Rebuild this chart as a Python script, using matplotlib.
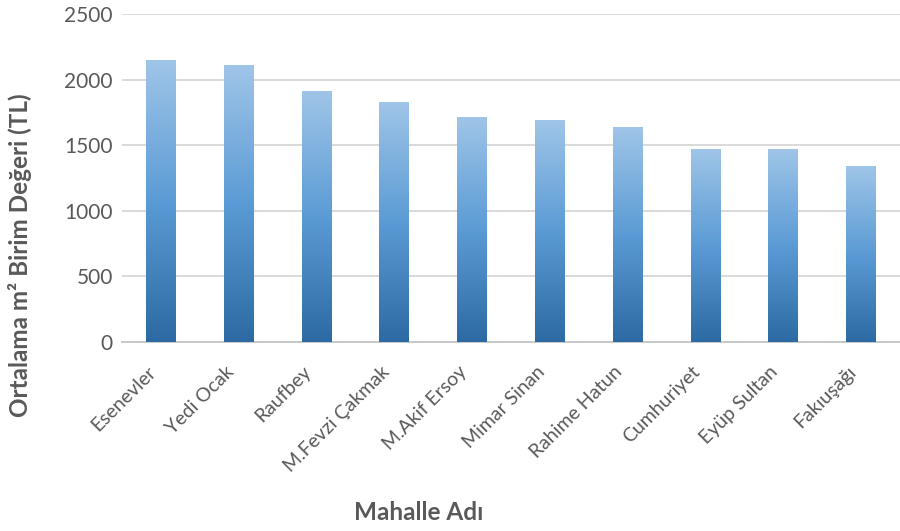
import numpy as np
import matplotlib
matplotlib.use("Agg")
import matplotlib.pyplot as plt
from matplotlib.colors import LinearSegmentedColormap
from matplotlib.transforms import ScaledTranslation

plt.rcParams['font.family'] = ['Lato', 'DejaVu Sans']

mahalleler = ["Esenevler", "Yedi Ocak", "Raufbey", "M.Fevzi Çakmak", "M.Akif Ersoy",
              "Mimar Sinan", "Rahime Hatun", "Cumhuriyet", "Eyüp Sultan", "Fakıuşağı"]
birim_deger = [2145, 2105, 1912, 1822, 1714, 1687, 1636, 1471, 1471, 1334]
y_ticks = [0, 500, 1000, 1500, 2000, 2500]

fig = plt.figure(figsize=(9, 5.31), dpi=100)
ax = fig.add_axes([122 / 900, 1 - 342 / 531, 778 / 900, 328 / 531])

x = np.arange(len(mahalleler))
bars = ax.bar(x, birim_deger, width=0.385, color="none", zorder=3)

# vertical gradient inside every bar: light at the top, dark at the base
grad = LinearSegmentedColormap.from_list("bar", ["#2d6aa3", "#5b9bd5", "#9fc5e8"])
column = np.linspace(0, 1, 256).reshape(-1, 1)
for b in bars:
    x0, y0 = b.get_x(), b.get_y()
    ax.imshow(column, cmap=grad, origin="lower", aspect="auto", zorder=3,
              extent=(x0, x0 + b.get_width(), y0, y0 + b.get_height()))

ax.set_xlim(-0.5, len(mahalleler) - 0.5)
ax.set_ylim(0, 2500)
ax.set_yticks(y_ticks)
ax.yaxis.grid(True, color="#d9d9d9", linewidth=1.4, zorder=0)
ax.set_axisbelow(True)

for side in ("left", "right", "top"):
    ax.spines[side].set_visible(False)
ax.spines["bottom"].set_color("#c8c8c8")
ax.spines["bottom"].set_linewidth(1.4)
ax.tick_params(length=0, colors="#595959", labelsize=14)
ax.tick_params(axis="y", pad=6.5, labelsize=15)

ax.set_xticks(x)
ax.set_xticklabels(mahalleler, rotation=45, ha="right", va="center",
                   rotation_mode="anchor")
offset = ScaledTranslation(-8 / 100, -22 / 100, fig.dpi_scale_trans)
for lbl in ax.get_xticklabels():
    lbl.set_transform(lbl.get_transform() + offset)

fig.text(20 / 900, 1 - 255 / 531, "Ortalama m² Birim Değeri (TL)", rotation=90,
         ha="center", va="center", fontsize=17.5, fontweight="bold", color="#595959")
fig.text(419 / 900, 1 - 513 / 531, "Mahalle Adı", ha="center", va="center",
         fontsize=17.5, fontweight="bold", color="#595959")

fig.savefig("out.png", dpi=100)
